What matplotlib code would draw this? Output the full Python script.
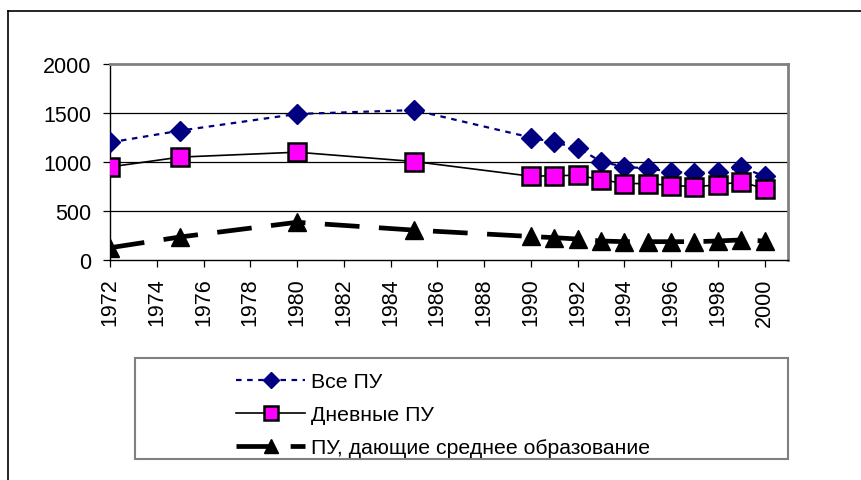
import matplotlib.pyplot as plt
from matplotlib.lines import Line2D
from matplotlib.patches import Rectangle

plt.rcParams['font.family'] = ['Liberation Sans', 'DejaVu Sans']
plt.rcParams['lines.scale_dashes'] = False

years = [1972, 1975, 1980, 1985, 1990, 1991, 1992, 1993, 1994, 1995, 1996, 1997, 1998, 1999, 2000]
vse_pu = [1200, 1320, 1490, 1530, 1250, 1200, 1145, 1005, 950, 935, 900, 890, 900, 945, 855]
dnevnye_pu = [950, 1050, 1100, 1005, 855, 860, 865, 820, 780, 780, 760, 750, 765, 800, 725]
srednee_pu = [125, 235, 385, 305, 240, 228, 214, 194, 187, 187, 187, 187, 194, 205, 194]

labels = ["Все ПУ", "Дневные ПУ", "ПУ, дающие среднее образование"]
xticks = list(range(1972, 2001, 2))
yticks = [0, 500, 1000, 1500, 2000]

W, H = 861, 481
fig = plt.figure(figsize=(W / 100, H / 100), dpi=100)
ax = fig.add_axes([110 / W, 1 - 261 / H, (788 - 110) / W, (261 - 65) / H])

# gridlines
for v in yticks[1:-1]:
    ax.axhline(v, color='black', lw=0.9, zorder=1)

l1, = ax.plot(years, vse_pu, color='#000080', lw=1.6, dashes=(4, 4),
              marker='D', ms=10, mfc='#000080', mec='#000080', zorder=3)
l2, = ax.plot(years, dnevnye_pu, color='black', lw=1.2,
              marker='s', ms=12.5, mfc='#FF00FF', mec='black', mew=1.8, zorder=4)
l3, = ax.plot(years, srednee_pu, color='black', lw=3.4, dashes=(25, 14),
              marker='^', ms=13, mfc='black', mec='black', zorder=3)

ax.set_xlim(1972, 2001)
ax.set_ylim(0, 2000)
ax.set_xticks(xticks)
ax.set_xticklabels([str(x) for x in xticks], rotation=90)
ax.set_yticks(yticks)
ax.tick_params(axis='both', labelsize=15.5, direction='out', length=5, width=0.9, colors='black')
ax.tick_params(axis='x', pad=7.5)
ax.tick_params(axis='y', pad=8.5)

for s in ['top', 'right']:
    ax.spines[s].set_color('#808080')
    ax.spines[s].set_linewidth(2)
for s in ['left', 'bottom']:
    ax.spines[s].set_color('black')
    ax.spines[s].set_linewidth(1)

# outer chart frame (cropped on right and bottom)
fig.add_artist(Line2D([8 / W, 8 / W], [0, 1 - 12 / H], color='black', lw=1.2, transform=fig.transFigure))
fig.add_artist(Line2D([8 / W, 1], [1 - 12 / H, 1 - 12 / H], color='black', lw=1.2, transform=fig.transFigure))

# legend frame
fig.add_artist(Rectangle((135 / W, 1 - 460 / H), (788 - 135) / W, (460 - 359) / H,
                         transform=fig.transFigure, fill=False, ec='#808080', lw=1.5))
fig.legend([l1, l2, l3], labels, loc='upper left', bbox_to_anchor=(236 / W, 1 - 373 / H),
           frameon=False, fontsize=15.3, handlelength=3.25, handletextpad=0.3,
           labelspacing=0.66, borderpad=0, borderaxespad=0, markerscale=0.8)

fig.savefig('out.png', dpi=100)
